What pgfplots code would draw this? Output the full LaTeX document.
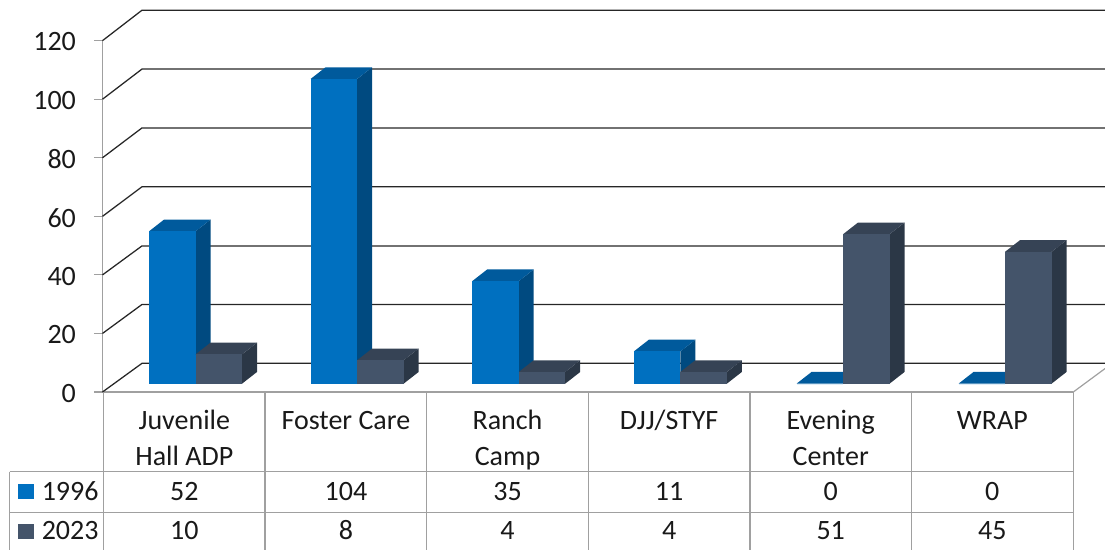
\documentclass[border=0pt]{standalone}
\usepackage{pgfplots}
\pgfplotsset{compat=1.18}
\usepackage{fontspec}
\setmainfont{Carlito}
\definecolor{gridgray}{HTML}{A0A0A0}
\definecolor{wall}{HTML}{262626}
\definecolor{fa}{HTML}{0070C0}
\definecolor{ta}{HTML}{005A9C}
\definecolor{sa}{HTML}{004A80}
\definecolor{fb}{HTML}{44546A}
\definecolor{tb}{HTML}{364355}
\definecolor{sb}{HTML}{2B3746}
\newcommand{\tblfont}{\fontsize{21}{27}\selectfont}
% one 3D bar: left x (px), value, front / top / side colours
\newcommand{\threedbar}[5]{%
  \pgfmathsetmacro{\xr}{#1+46.5}%
  \pgfmathsetmacro{\xrb}{#1+46.5+15}%
  \pgfmathsetmacro{\xlb}{#1+15}%
  \pgfmathsetmacro{\vb}{#2+4}%
  \addplot[fill=#5,draw=none,forget plot] coordinates {(\xr,0) (\xrb,4) (\xrb,\vb) (\xr,#2)};
  \addplot[fill=#4,draw=none,forget plot] coordinates {(#1,#2) (\xr,#2) (\xrb,\vb) (\xlb,\vb)};
  \addplot[fill=#3,draw=none,forget plot] coordinates {(#1,0) (\xr,0) (\xr,#2) (#1,#2)};
}
\begin{document}
\begin{tikzpicture}
\path[use as bounding box] (0,0) rectangle (828.75pt,412.5pt);
% axis with the real value ticks and the back wall
\begin{axis}[
  at={(76.875pt,118.5pt)}, anchor=south west,
  scale only axis, width=728.1pt, height=263.5pt,
  xmin=102.5, xmax=1073.3, ymin=0, ymax=120,
  clip=false,
  axis x line*=bottom, axis y line*=left,
  axis line style={draw=gridgray,line width=1pt,-},
  ytick={0,20,...,120},
  xtick={184.3,345.9,507.5,669.1,830.7,992.3},
  xticklabels={{Juvenile\\Hall ADP},{\vphantom{l}Foster Care\\\mbox{}},{Ranch\\Camp},{\vphantom{l}DJJ/STYF\\\mbox{}},{Evening\\Center},{\vphantom{l}WRAP\\\mbox{}}},
  xtick style={draw=none},
  ytick style={draw=gridgray,line width=0.8pt},
  tick align=outside,
  major tick length=6.4pt,
  /pgf/number format/assume math mode=true,
  yticklabel style={font=\tblfont,text=black!90,xshift=-10pt,yshift=-1pt},
  xticklabel style={font=\tblfont,text=black!90,align=center,anchor=north,yshift=-3.4pt},
]
\addplot[wall,line width=0.95pt,forget plot] coordinates {(102.5,0) (142,9.8) (1105,9.8)};
\addplot[wall,line width=0.95pt,forget plot] coordinates {(102.5,20) (142,29.9) (1105,29.9)};
\addplot[wall,line width=0.95pt,forget plot] coordinates {(102.5,40) (142,49.9) (1105,49.9)};
\addplot[wall,line width=0.95pt,forget plot] coordinates {(102.5,60) (142,70.1) (1105,70.1)};
\addplot[wall,line width=0.95pt,forget plot] coordinates {(102.5,80) (142,90.2) (1105,90.2)};
\addplot[wall,line width=0.95pt,forget plot] coordinates {(102.5,100) (142,110.3) (1105,110.3)};
\addplot[wall,line width=0.95pt,forget plot] coordinates {(102.5,120) (142,130.4) (1105,130.4)};
\addplot[gridgray,line width=0.9pt,forget plot] coordinates {(1073.3,0) (1105,8)};
\end{axis}
% axis of the bars: value 0 lies on the floor of the chart
\begin{axis}[
  at={(0pt,124.725pt)}, anchor=south west,
  scale only axis, width=828.75pt, height=219.75pt,
  xmin=0, xmax=1105, ymin=0, ymax=100,
  clip=false, hide axis,
]
\threedbar{149}{52}{fa}{ta}{sa}
\threedbar{195.5}{10}{fb}{tb}{sb}
\threedbar{310.6}{104}{fa}{ta}{sa}
\threedbar{357.1}{8}{fb}{tb}{sb}
\threedbar{472.2}{35}{fa}{ta}{sa}
\threedbar{518.7}{4}{fb}{tb}{sb}
\threedbar{633.8}{11}{fa}{ta}{sa}
\threedbar{680.3}{4}{fb}{tb}{sb}
\threedbar{796.5}{0}{fa}{ta}{sa}
\threedbar{843}{51}{fb}{tb}{sb}
\threedbar{958.5}{0}{fa}{ta}{sa}
\threedbar{1005}{45}{fb}{tb}{sb}
\end{axis}
% data table under the chart (page pixels)
\begin{scope}[x=0.75pt,y=-0.75pt,yshift=412.5pt]
  \draw[gridgray,line width=1pt] (9.5,471.7) -- (1073.3,471.7);
  \draw[gridgray,line width=1pt] (9.5,512.7) -- (1073.3,512.7);
  \draw[gridgray,line width=1pt] (9.5,471.7) -- (9.5,550);
  \foreach \x in {103.5,265.1,426.7,588.3,749.9,911.5,1073.3}
    \draw[gridgray,line width=1pt] (\x,392) -- (\x,550);
  \fill[fa] (18,484) rectangle (33.5,499);
  \fill[fb] (18,523.7) rectangle (33.5,539);
  \node[anchor=base west,inner sep=0,font=\tblfont,text=black!90] at (41.5,500) {1996};
  \node[anchor=base west,inner sep=0,font=\tblfont,text=black!90] at (41.5,539.7) {2023};
  \foreach \x/\a/\b in {184.3/52/10,345.9/104/8,507.5/35/4,669.1/11/4,830.7/0/51,992.3/0/45}{
    \node[anchor=base,inner sep=0,font=\tblfont,text=black!90] at (\x,500) {\a};
    \node[anchor=base,inner sep=0,font=\tblfont,text=black!90] at (\x,539.7) {\b};
  }
\end{scope}
\end{tikzpicture}
\end{document}
